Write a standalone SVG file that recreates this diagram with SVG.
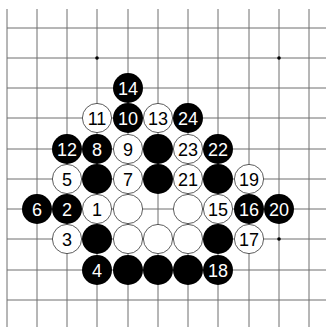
<svg xmlns="http://www.w3.org/2000/svg" width="326" height="327" viewBox="0 0 326 327">
<style>
.grid line{stroke:#6e6e6e;stroke-width:1}
.b{fill:#000}
.w{fill:#fff;stroke:#333;stroke-width:0.8}
text{font-family:"Liberation Sans",Arial,sans-serif;font-size:18px;text-anchor:middle;dominant-baseline:central}
.tb{fill:#fff}
.tw{fill:#000}
</style>
<rect width="326" height="327" fill="#fff"/>
<g id="board" class="grid">
<line x1="7" y1="9" x2="7" y2="327"/>
<line x1="37" y1="9" x2="37" y2="327"/>
<line x1="67" y1="9" x2="67" y2="327"/>
<line x1="97" y1="9" x2="97" y2="327"/>
<line x1="128" y1="9" x2="128" y2="327"/>
<line x1="158" y1="9" x2="158" y2="327"/>
<line x1="188" y1="9" x2="188" y2="327"/>
<line x1="218" y1="9" x2="218" y2="327"/>
<line x1="249" y1="9" x2="249" y2="327"/>
<line x1="279" y1="9" x2="279" y2="327"/>
<line x1="309" y1="9" x2="309" y2="327"/>
<line x1="7" y1="28" x2="326" y2="28"/>
<line x1="7" y1="58" x2="326" y2="58"/>
<line x1="7" y1="88" x2="326" y2="88"/>
<line x1="7" y1="118" x2="326" y2="118"/>
<line x1="7" y1="149" x2="326" y2="149"/>
<line x1="7" y1="179" x2="326" y2="179"/>
<line x1="7" y1="209" x2="326" y2="209"/>
<line x1="7" y1="239" x2="326" y2="239"/>
<line x1="7" y1="270" x2="326" y2="270"/>
<line x1="7" y1="300" x2="326" y2="300"/>
</g>
<g id="hoshi" fill="#000">
<circle cx="97" cy="58" r="1.8"/>
<circle cx="279" cy="58" r="1.8"/>
<circle cx="279" cy="239" r="1.8"/>
</g>
<g id="s14"><circle class="b" cx="128" cy="88" r="15"/><text class="tb" x="128" y="89">14</text></g>
<g id="s11"><circle class="w" cx="97" cy="118" r="14.6"/><text class="tw" x="97" y="119">11</text></g>
<g id="s10"><circle class="b" cx="128" cy="118" r="15"/><text class="tb" x="128" y="119">10</text></g>
<g id="s13"><circle class="w" cx="158" cy="118" r="14.6"/><text class="tw" x="158" y="119">13</text></g>
<g id="s24"><circle class="b" cx="188" cy="118" r="15"/><text class="tb" x="188" y="119">24</text></g>
<g id="s12"><circle class="b" cx="67" cy="149" r="15"/><text class="tb" x="67" y="150">12</text></g>
<g id="s8"><circle class="b" cx="97" cy="149" r="15"/><text class="tb" x="97" y="150">8</text></g>
<g id="s9"><circle class="w" cx="128" cy="149" r="14.6"/><text class="tw" x="128" y="150">9</text></g>
<g id="b1"><circle class="b" cx="158" cy="149" r="15"/></g>
<g id="s23"><circle class="w" cx="188" cy="149" r="14.6"/><text class="tw" x="188" y="150">23</text></g>
<g id="s22"><circle class="b" cx="218" cy="149" r="15"/><text class="tb" x="218" y="150">22</text></g>
<g id="s5"><circle class="w" cx="67" cy="179" r="14.6"/><text class="tw" x="67" y="180">5</text></g>
<g id="b2"><circle class="b" cx="97" cy="179" r="15"/></g>
<g id="s7"><circle class="w" cx="128" cy="179" r="14.6"/><text class="tw" x="128" y="180">7</text></g>
<g id="b3"><circle class="b" cx="158" cy="179" r="15"/></g>
<g id="s21"><circle class="w" cx="188" cy="179" r="14.6"/><text class="tw" x="188" y="180">21</text></g>
<g id="b4"><circle class="b" cx="218" cy="179" r="15"/></g>
<g id="s19"><circle class="w" cx="249" cy="179" r="14.6"/><text class="tw" x="249" y="180">19</text></g>
<g id="s6"><circle class="b" cx="37" cy="209" r="15"/><text class="tb" x="37" y="210">6</text></g>
<g id="s2"><circle class="b" cx="67" cy="209" r="15"/><text class="tb" x="67" y="210">2</text></g>
<g id="s1"><circle class="w" cx="97" cy="209" r="14.6"/><text class="tw" x="97" y="210">1</text></g>
<g id="w1"><circle class="w" cx="128" cy="209" r="14.6"/></g>
<g id="w2"><circle class="w" cx="188" cy="209" r="14.6"/></g>
<g id="s15"><circle class="w" cx="218" cy="209" r="14.6"/><text class="tw" x="218" y="210">15</text></g>
<g id="s16"><circle class="b" cx="249" cy="209" r="15"/><text class="tb" x="249" y="210">16</text></g>
<g id="s20"><circle class="b" cx="279" cy="209" r="15"/><text class="tb" x="279" y="210">20</text></g>
<g id="s3"><circle class="w" cx="67" cy="239" r="14.6"/><text class="tw" x="67" y="240">3</text></g>
<g id="b5"><circle class="b" cx="97" cy="239" r="15"/></g>
<g id="w3"><circle class="w" cx="128" cy="239" r="14.6"/></g>
<g id="w4"><circle class="w" cx="158" cy="239" r="14.6"/></g>
<g id="w5"><circle class="w" cx="188" cy="239" r="14.6"/></g>
<g id="b6"><circle class="b" cx="218" cy="239" r="15"/></g>
<g id="s17"><circle class="w" cx="249" cy="239" r="14.6"/><text class="tw" x="249" y="240">17</text></g>
<g id="s4"><circle class="b" cx="97" cy="270" r="15"/><text class="tb" x="97" y="271">4</text></g>
<g id="b7"><circle class="b" cx="128" cy="270" r="15"/></g>
<g id="b8"><circle class="b" cx="158" cy="270" r="15"/></g>
<g id="b9"><circle class="b" cx="188" cy="270" r="15"/></g>
<g id="s18"><circle class="b" cx="218" cy="270" r="15"/><text class="tb" x="218" y="271">18</text></g>
</svg>
